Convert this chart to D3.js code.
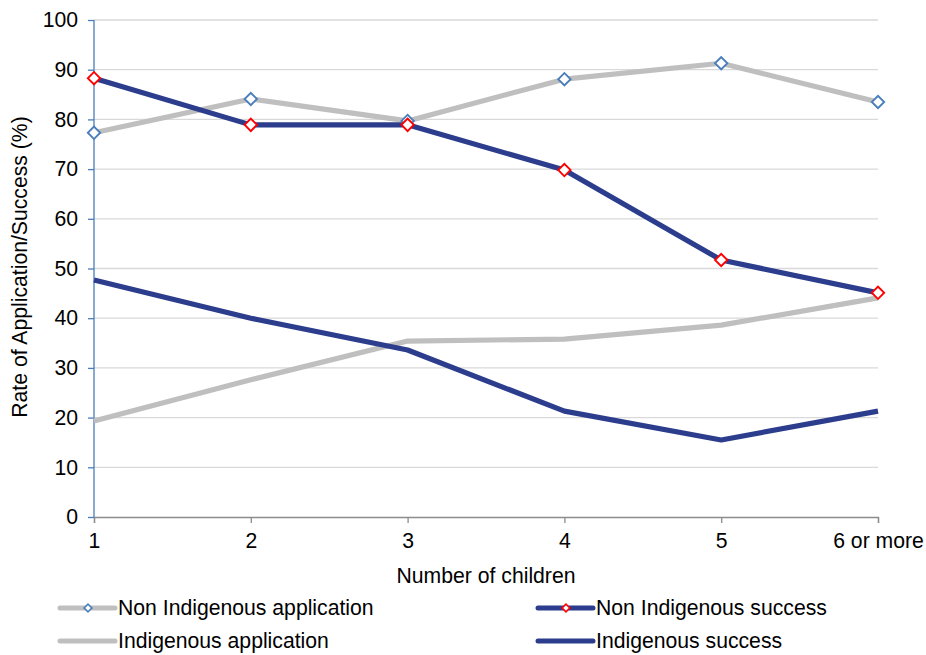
<!DOCTYPE html>
<html><head><meta charset="utf-8">
<script src="https://cdn.jsdelivr.net/npm/d3@7"></script>
<style>body{margin:0;background:#fff}svg{font-family:"Liberation Sans",Arial,sans-serif}</style>
</head><body><svg id="c" width="926" height="655"></svg>
<script>
const categories = ["1","2","3","4","5","6 or more"];
const nonIndApplication = [77.3, 84.1, 79.7, 88.1, 91.3, 83.5];
const nonIndSuccess = [88.3, 78.9, 78.9, 69.8, 51.7, 45.1];
const indApplication = [19.3, 27.6, 35.4, 35.8, 38.6, 44.1];
const indSuccess = [47.7, 40.0, 33.6, 21.3, 15.5, 21.3];
const yTicks = [0,10,20,30,40,50,60,70,80,90,100];

const svg = d3.select("#c");
const x = d3.scalePoint().domain(categories).range([94, 878]);
const y = d3.scaleLinear().domain([0,100]).range([517, 20]);
const GRAY = "#bfbfbf", NAVY = "#2b3d8c", BLUE = "#4a7ebb", RED = "#ff0000";
const FS = 21.2;

// gridlines
svg.append("g").selectAll("line").data(yTicks.filter(d=>d>0)).join("line")
  .attr("x1",94).attr("x2",878).attr("y1",d=>y(d)).attr("y2",d=>y(d))
  .attr("stroke","#d9d9d9").attr("stroke-width",1.3);

// x axis
const xa = svg.append("g").attr("transform","translate(0,517)")
  .call(d3.axisBottom(x).tickSize(6).tickPadding(10));
xa.attr("font-size",null).attr("font-family",null);
xa.select(".domain").attr("stroke","#8c8c8c").attr("stroke-width",1.3);
xa.selectAll(".tick line").attr("stroke","#8c8c8c").attr("stroke-width",1.3);
xa.selectAll("text").style("font-size",FS+"px").attr("fill","#000");

// y axis
const ya = svg.append("g").attr("transform","translate(94,0)")
  .call(d3.axisLeft(y).tickValues(yTicks).tickSize(6).tickPadding(10));
ya.attr("font-size",null).attr("font-family",null);
ya.select(".domain").attr("stroke",BLUE).attr("stroke-width",1.3).attr("d","M0,20V517");
ya.selectAll(".tick line").attr("stroke",BLUE).attr("stroke-width",1.3);
ya.selectAll("text").style("font-size",FS+"px").attr("fill","#000");

const line = d3.line().x((d,i)=>x(categories[i])).y(d=>y(d));
function drawLine(data,color){
  svg.append("path").datum(data).attr("d",line).attr("fill","none")
    .attr("stroke",color).attr("stroke-width",5.2).attr("stroke-linejoin","round");
}
function drawMarkers(data,color){
  svg.append("g").selectAll("path").data(data).join("path")
    .attr("d",d3.symbol(d3.symbolSquare,76))
    .attr("transform",(d,i)=>`translate(${x(categories[i])},${y(d)}) rotate(45)`)
    .attr("fill","#fff").attr("stroke",color).attr("stroke-width",1.9);
}
drawLine(indApplication,GRAY);
drawLine(indSuccess,NAVY);
drawLine(nonIndApplication,GRAY);
drawLine(nonIndSuccess,NAVY);
drawMarkers(nonIndApplication,BLUE);
drawMarkers(nonIndSuccess,RED);

// axis titles
svg.append("text").attr("transform","translate(27,267) rotate(-90)").attr("text-anchor","middle")
  .style("font-size",FS+"px").text("Rate of Application/Success (%)");
svg.append("text").attr("x",486).attr("y",583).attr("text-anchor","middle")
  .style("font-size",FS+"px").text("Number of children");

// legend
const legend = [
  {name:"Non Indigenous application", color:GRAY, marker:BLUE, x:60, y:608},
  {name:"Non Indigenous success", color:NAVY, marker:RED, x:538, y:608},
  {name:"Indigenous application", color:GRAY, marker:null, x:60, y:641},
  {name:"Indigenous success", color:NAVY, marker:null, x:538, y:641}
];
const lg = svg.append("g").selectAll("g").data(legend).join("g")
  .attr("transform",d=>`translate(${d.x},${d.y})`);
lg.append("line").attr("x1",0).attr("x2",55).attr("stroke",d=>d.color)
  .attr("stroke-width",5).attr("stroke-linecap","round");
lg.filter(d=>d.marker).append("path").attr("d",d3.symbol(d3.symbolSquare,30))
  .attr("transform","translate(28,0) rotate(45)").attr("fill","#fff")
  .attr("stroke",d=>d.marker).attr("stroke-width",1.6);
lg.append("text").attr("x",58).attr("dy","0.35em").style("font-size",FS+"px").text(d=>d.name);
</script></body></html>
